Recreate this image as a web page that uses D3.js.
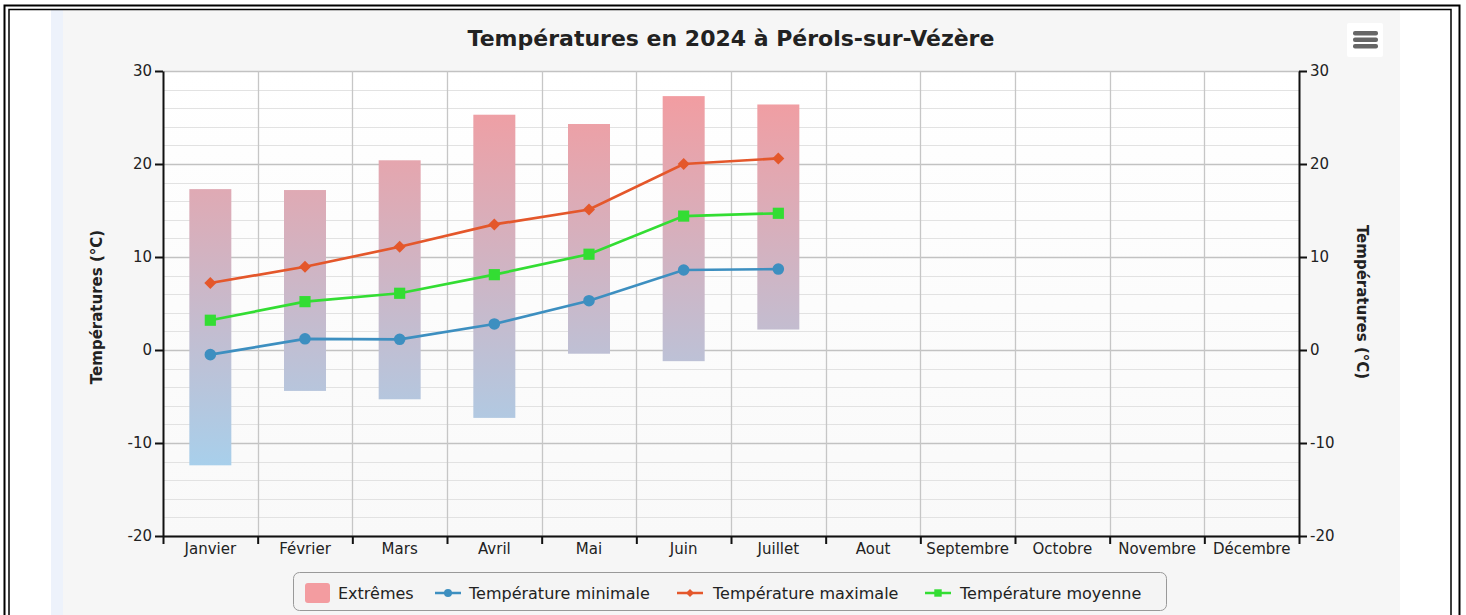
<!DOCTYPE html>
<html>
<head>
<meta charset="utf-8">
<title>Températures en 2024</title>
<script src="https://d3js.org/d3.v7.min.js"></script>
<style>
  body { margin: 0; background: #fff; }
  text { font-family: "DejaVu Sans", sans-serif; fill: #222; }
</style>
</head>
<body>
<svg width="1466" height="615"></svg>
<script>
var months = ["Janvier", "Février", "Mars", "Avril", "Mai", "Juin", "Juillet",
              "Aout", "Septembre", "Octobre", "Novembre", "Décembre"];
var extremeHigh = [17.3, 17.2, 20.4, 25.3, 24.3, 27.3, 26.4];
var extremeLow  = [-12.4, -4.4, -5.3, -7.3, -0.4, -1.2, 2.2];
var tempMin = [-0.5, 1.2, 1.15, 2.8, 5.3, 8.6, 8.7];
var tempMax = [7.2, 8.95, 11.1, 13.5, 15.1, 20.0, 20.6];
var tempMoy = [3.2, 5.2, 6.1, 8.1, 10.3, 14.4, 14.7];
var yTicks = [-20, -10, 0, 10, 20, 30];
var legendLabels = ["Extrêmes", "Température minimale", "Température maximale", "Température moyenne"];

var svg = d3.select("svg");
var plotL = 163, plotR = 1299, plotT = 71, plotB = 536;

var x = d3.scaleBand().domain(months).range([plotL, plotR]);
var xEdge = d3.scaleLinear().domain([0, months.length]).range([plotL, plotR]);
var y = d3.scaleLinear().domain([-20, 30]).range([plotB, plotT]);

var defs = svg.append("defs");
var g1 = defs.append("linearGradient").attr("id", "barGrad")
    .attr("gradientUnits", "userSpaceOnUse")
    .attr("x1", 0).attr("x2", 0).attr("y1", y(28)).attr("y2", y(-13));
g1.append("stop").attr("offset", "0%").attr("stop-color", "#f39ca0");
g1.append("stop").attr("offset", "100%").attr("stop-color", "#a7d0ec");

var g2 = defs.append("linearGradient").attr("id", "plotGrad")
    .attr("x1", 0).attr("x2", 0).attr("y1", 0).attr("y2", 1);
g2.append("stop").attr("offset", "0%").attr("stop-color", "#ffffff");
g2.append("stop").attr("offset", "100%").attr("stop-color", "#f9f9f9");

// frame + panel
svg.append("rect").attr("x", 51).attr("y", 10).attr("width", 1349).attr("height", 605).attr("fill", "#f6f6f6");
svg.append("rect").attr("x", 51).attr("y", 10).attr("width", 12).attr("height", 605).attr("fill", "#edf2fb");
svg.append("rect").attr("x", 4.5).attr("y", 5.5).attr("width", 1455).attr("height", 620)
    .attr("fill", "none").attr("stroke", "#000").attr("stroke-width", 2);
svg.append("rect").attr("x", 9).attr("y", 9.5).attr("width", 1442).attr("height", 620)
    .attr("fill", "none").attr("stroke", "#000").attr("stroke-width", 1.5);

// plot background
svg.append("rect").attr("x", plotL).attr("y", plotT).attr("width", plotR - plotL).attr("height", plotB - plotT)
    .attr("fill", "url(#plotGrad)");

// grid
svg.append("g").selectAll("line").data(d3.range(-20, 31, 2)).join("line")
    .attr("x1", plotL).attr("x2", plotR)
    .attr("y1", function(d) { return Math.round(y(d)) + 0.5; })
    .attr("y2", function(d) { return Math.round(y(d)) + 0.5; })
    .attr("stroke", function(d) { return d % 10 === 0 ? "#c2c2c2" : "#e2e2e2"; })
    .attr("stroke-width", function(d) { return d % 10 === 0 ? 1.3 : 1; });
svg.append("g").selectAll("line").data(d3.range(1, months.length)).join("line")
    .attr("x1", function(d) { return Math.round(xEdge(d)) + 0.5; })
    .attr("x2", function(d) { return Math.round(xEdge(d)) + 0.5; })
    .attr("y1", plotT).attr("y2", plotB)
    .attr("stroke", "#c6c6c6").attr("stroke-width", 1.3);

// bars
var barW = 42;
svg.append("g").selectAll("rect").data(extremeHigh).join("rect")
    .attr("x", function(d, i) { return x(months[i]) + x.bandwidth() / 2 - barW / 2; })
    .attr("y", function(d) { return y(d); })
    .attr("width", barW)
    .attr("height", function(d, i) { return y(extremeLow[i]) - y(d); })
    .attr("fill", "url(#barGrad)");

// lines
var cx = function(d, i) { return x(months[i]) + x.bandwidth() / 2; };
function drawSeries(data, color, shape, size, rot) {
  var line = d3.line().x(cx).y(function(d) { return y(d); });
  svg.append("path").datum(data).attr("d", line)
      .attr("fill", "none").attr("stroke", color).attr("stroke-width", 2.7);
  svg.append("g").selectAll("path").data(data).join("path")
      .attr("d", d3.symbol().type(shape).size(size))
      .attr("transform", function(d, i) {
        return "translate(" + cx(d, i) + "," + y(d) + ") rotate(" + rot + ")";
      })
      .attr("fill", color);
}
drawSeries(tempMin, "#3d8fc0", d3.symbolCircle, 105, 0);
drawSeries(tempMax, "#e4572b", d3.symbolSquare, 72, 45);
drawSeries(tempMoy, "#33dd33", d3.symbolSquare, 125, 0);

// axes
var fmt = function(d) { return d; };
var ax = svg.append("g").attr("transform", "translate(" + plotL + ",0)")
    .call(d3.axisLeft(y).tickValues(yTicks).tickSize(8).tickSizeOuter(0).tickPadding(3).tickFormat(fmt));
var axR = svg.append("g").attr("transform", "translate(" + plotR + ",0)")
    .call(d3.axisRight(y).tickValues(yTicks).tickSize(8).tickSizeOuter(0).tickPadding(3).tickFormat(fmt));
var axB = svg.append("g").attr("transform", "translate(0," + plotB + ")")
    .call(d3.axisBottom(xEdge).tickValues(d3.range(0, months.length + 1)).tickSize(8).tickSizeOuter(0).tickFormat(""));
var axL = svg.append("g").attr("transform", "translate(0," + plotB + ")")
    .call(d3.axisBottom(x).tickSize(0).tickPadding(7));
axL.select(".domain").remove();
[ax, axR, axB].forEach(function(a) {
  a.selectAll("path, line").attr("stroke", "#111").attr("stroke-width", 2);
});
[ax, axR, axL].forEach(function(a) {
  a.selectAll("text").style("font-size", "15px").attr("fill", "#222")
      .style("font-family", "'DejaVu Sans', sans-serif");
});

// titles
svg.append("text").attr("x", 731).attr("y", 46).attr("text-anchor", "middle")
    .style("font-size", "22px").style("font-weight", "bold")
    .text("Températures en 2024 à Pérols-sur-Vézère");
svg.append("text").attr("transform", "translate(102,307) rotate(-90)").attr("text-anchor", "middle")
    .style("font-size", "15px").style("font-weight", "bold").text("Températures (°C)");
svg.append("text").attr("transform", "translate(1357,302) rotate(90)").attr("text-anchor", "middle")
    .style("font-size", "15px").style("font-weight", "bold").text("Températures (°C)");

// menu button
var menu = svg.append("g").attr("transform", "translate(1347,23)");
menu.append("rect").attr("width", 36).attr("height", 34).attr("rx", 2).attr("fill", "#ffffff");
[10, 16.5, 23].forEach(function(d) {
  menu.append("rect").attr("x", 6).attr("y", d - 2).attr("width", 25).attr("height", 4.5)
      .attr("rx", 2).attr("fill", "#666");
});

// legend
var lg = svg.append("g");
lg.append("rect").attr("x", 293.5).attr("y", 572.5).attr("width", 873).attr("height", 38)
    .attr("rx", 6).attr("fill", "#f4f4f4").attr("stroke", "#999");
lg.append("rect").attr("x", 305).attr("y", 583).attr("width", 25).attr("height", 20).attr("rx", 3).attr("fill", "#f39ca0");
var legendItems = [
  {sx: 435, tx: 469, color: "#3d8fc0", shape: d3.symbolCircle, size: 50, rot: 0},
  {sx: 677, tx: 713, color: "#e4572b", shape: d3.symbolSquare, size: 32, rot: 45},
  {sx: 925, tx: 960, color: "#33dd33", shape: d3.symbolSquare, size: 55, rot: 0}
];
lg.append("text").attr("x", 338).attr("y", 599).style("font-size", "16px").text(legendLabels[0]);
legendItems.forEach(function(it, i) {
  lg.append("line").attr("x1", it.sx).attr("x2", it.sx + 26).attr("y1", 593).attr("y2", 593)
      .attr("stroke", it.color).attr("stroke-width", 2.5);
  lg.append("path").attr("d", d3.symbol().type(it.shape).size(it.size))
      .attr("transform", "translate(" + (it.sx + 13) + ",593) rotate(" + it.rot + ")").attr("fill", it.color);
  lg.append("text").attr("x", it.tx).attr("y", 599).style("font-size", "16px").text(legendLabels[i + 1]);
});
</script>
</body>
</html>
